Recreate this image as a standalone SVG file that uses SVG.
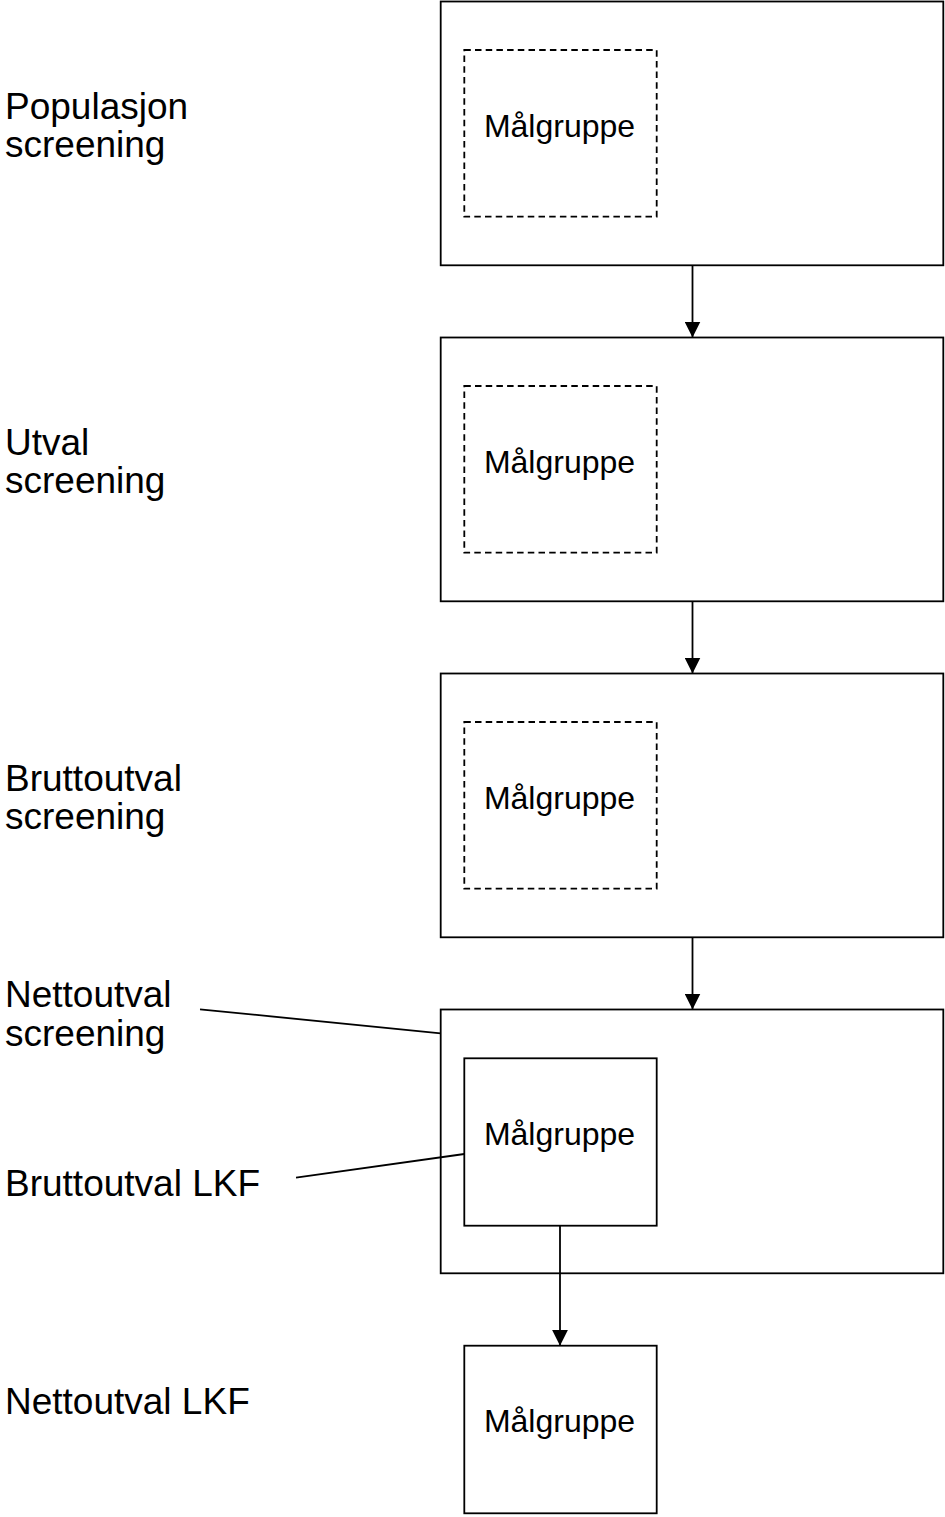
<svg xmlns="http://www.w3.org/2000/svg" width="945" height="1517" viewBox="0 0 945 1517">
<style>
.box{fill:#fff;stroke:#000;stroke-width:1.8}
.dash{fill:none;stroke:#000;stroke-width:1.8;stroke-dasharray:6.5 4.2}
.lbl{font-family:"Liberation Sans",Arial,sans-serif;font-size:37px;fill:#000}
.mg{font-family:"Liberation Sans",Arial,sans-serif;font-size:32px;fill:#000;text-anchor:middle}
.conn{fill:none;stroke:#000;stroke-width:1.8}
</style>
<defs>
<marker id="ah" markerUnits="userSpaceOnUse" markerWidth="16" markerHeight="16" viewBox="0 0 14 14" refX="14" refY="7" orient="auto">
<path d="M0,0 L14,7 L0,14 Z" fill="#000"/>
</marker>
</defs>
<rect width="945" height="1517" fill="#fff"/>
<g id="node1">
<rect class="box" x="440.7" y="1.5" width="502.6" height="263.8"/>
<rect class="dash" x="464.3" y="50" width="192.4" height="166.7"/>
<text class="mg" x="559.5" y="137">Målgruppe</text>
</g>
<g id="node2">
<rect class="box" x="440.7" y="337.5" width="502.6" height="263.8"/>
<rect class="dash" x="464.3" y="386" width="192.4" height="166.7"/>
<text class="mg" x="559.5" y="473">Målgruppe</text>
</g>
<g id="node3">
<rect class="box" x="440.7" y="673.5" width="502.6" height="263.8"/>
<rect class="dash" x="464.3" y="722" width="192.4" height="166.7"/>
<text class="mg" x="559.5" y="809">Målgruppe</text>
</g>
<g id="node4">
<rect class="box" x="440.7" y="1009.5" width="502.6" height="263.8"/>
</g>
<g id="node5">
<rect class="box" x="464.3" y="1058.3" width="192.4" height="167.4"/>
<text class="mg" x="559.5" y="1145">Målgruppe</text>
</g>
<g id="node6">
<rect class="box" x="464.3" y="1345.7" width="192.4" height="167.6"/>
<text class="mg" x="559.5" y="1432">Målgruppe</text>
</g>
<g id="labels">
<text class="lbl" x="5" y="118.5">Populasjon</text>
<text class="lbl" x="5" y="157">screening</text>
<text class="lbl" x="5" y="454.5">Utval</text>
<text class="lbl" x="5" y="493">screening</text>
<text class="lbl" x="5" y="790.5">Bruttoutval</text>
<text class="lbl" x="5" y="829">screening</text>
<text class="lbl" x="5" y="1007">Nettoutval</text>
<text class="lbl" x="5" y="1046">screening</text>
<text class="lbl" x="5" y="1196">Bruttoutval LKF</text>
<text class="lbl" x="5" y="1413.5">Nettoutval LKF</text>
</g>
<g id="connectors">
<line class="conn" x1="692.5" y1="265.3" x2="692.5" y2="337.5" marker-end="url(#ah)"/>
<line class="conn" x1="692.5" y1="601.3" x2="692.5" y2="673.5" marker-end="url(#ah)"/>
<line class="conn" x1="692.5" y1="937.3" x2="692.5" y2="1009.5" marker-end="url(#ah)"/>
<line class="conn" x1="560" y1="1225.7" x2="560" y2="1345.7" marker-end="url(#ah)"/>
<line class="conn" x1="200" y1="1009.3" x2="440.7" y2="1033.3"/>
<line class="conn" x1="296" y1="1177.7" x2="464.3" y2="1154"/>
</g>
</svg>
